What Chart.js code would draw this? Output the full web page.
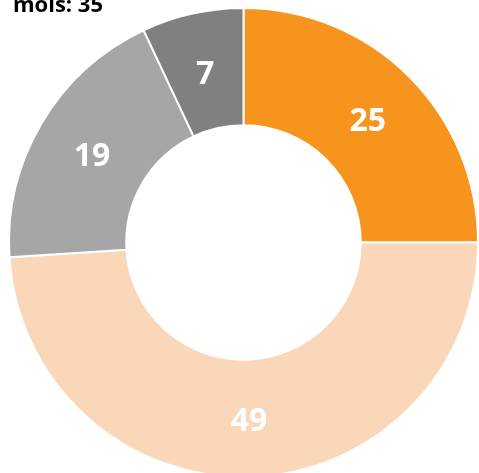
<!DOCTYPE html>
<html>
<head>
<meta charset="utf-8">
<script src="https://cdn.jsdelivr.net/npm/chart.js@4"></script>
<style>
html,body{margin:0;padding:0;background:#fff;overflow:hidden;}
#boite{position:relative;width:479px;height:490px;}
</style>
</head>
<body>
<div id="boite"><canvas id="graphique"></canvas></div>
<script>
var categories = ['A', 'B', 'C', 'D'];
var valeurs = [25, 49, 19, 7];
var couleurs = ['#F7941D', '#FAD7B8', '#A6A6A6', '#808080'];
var titre = 'mois: 35';

// etiquettes au milieu de chaque part + titre coupé en haut
var etiquettes = {
	id: 'etiquettes',
	afterDatasetsDraw: function(chart){
		var ctx = chart.ctx;
		var meta = chart.getDatasetMeta(0);
		ctx.save();
		ctx.fillStyle = '#fff';
		ctx.font = 'bold 32px "Open Sans", sans-serif';
		ctx.textAlign = 'center';
		ctx.textBaseline = 'middle';
		meta.data.forEach(function(arc, i){
			var p = arc.tooltipPosition();
			ctx.fillText(valeurs[i], p.x, p.y + 4);
		});
		ctx.fillStyle = '#000';
		ctx.font = 'bold 22px "Open Sans", sans-serif';
		ctx.textAlign = 'left';
		ctx.textBaseline = 'alphabetic';
		ctx.fillText(titre, 13, 12);
		ctx.restore();
	}
};

new Chart(document.getElementById('graphique'), {
	type: 'doughnut',
	data: {
		labels: categories,
		datasets: [{
			data: valeurs,
			backgroundColor: couleurs,
			borderColor: '#fff',
			borderWidth: 2
		}]
	},
	options: {
		responsive: true,
		maintainAspectRatio: false,
		animation: false,
		cutout: '50%',
		layout: {padding: {left: 8, right: 0, top: 7, bottom: 12}},
		plugins: {legend: {display: false}, tooltip: {enabled: false}}
	},
	plugins: [etiquettes]
});
</script>
</body>
</html>
